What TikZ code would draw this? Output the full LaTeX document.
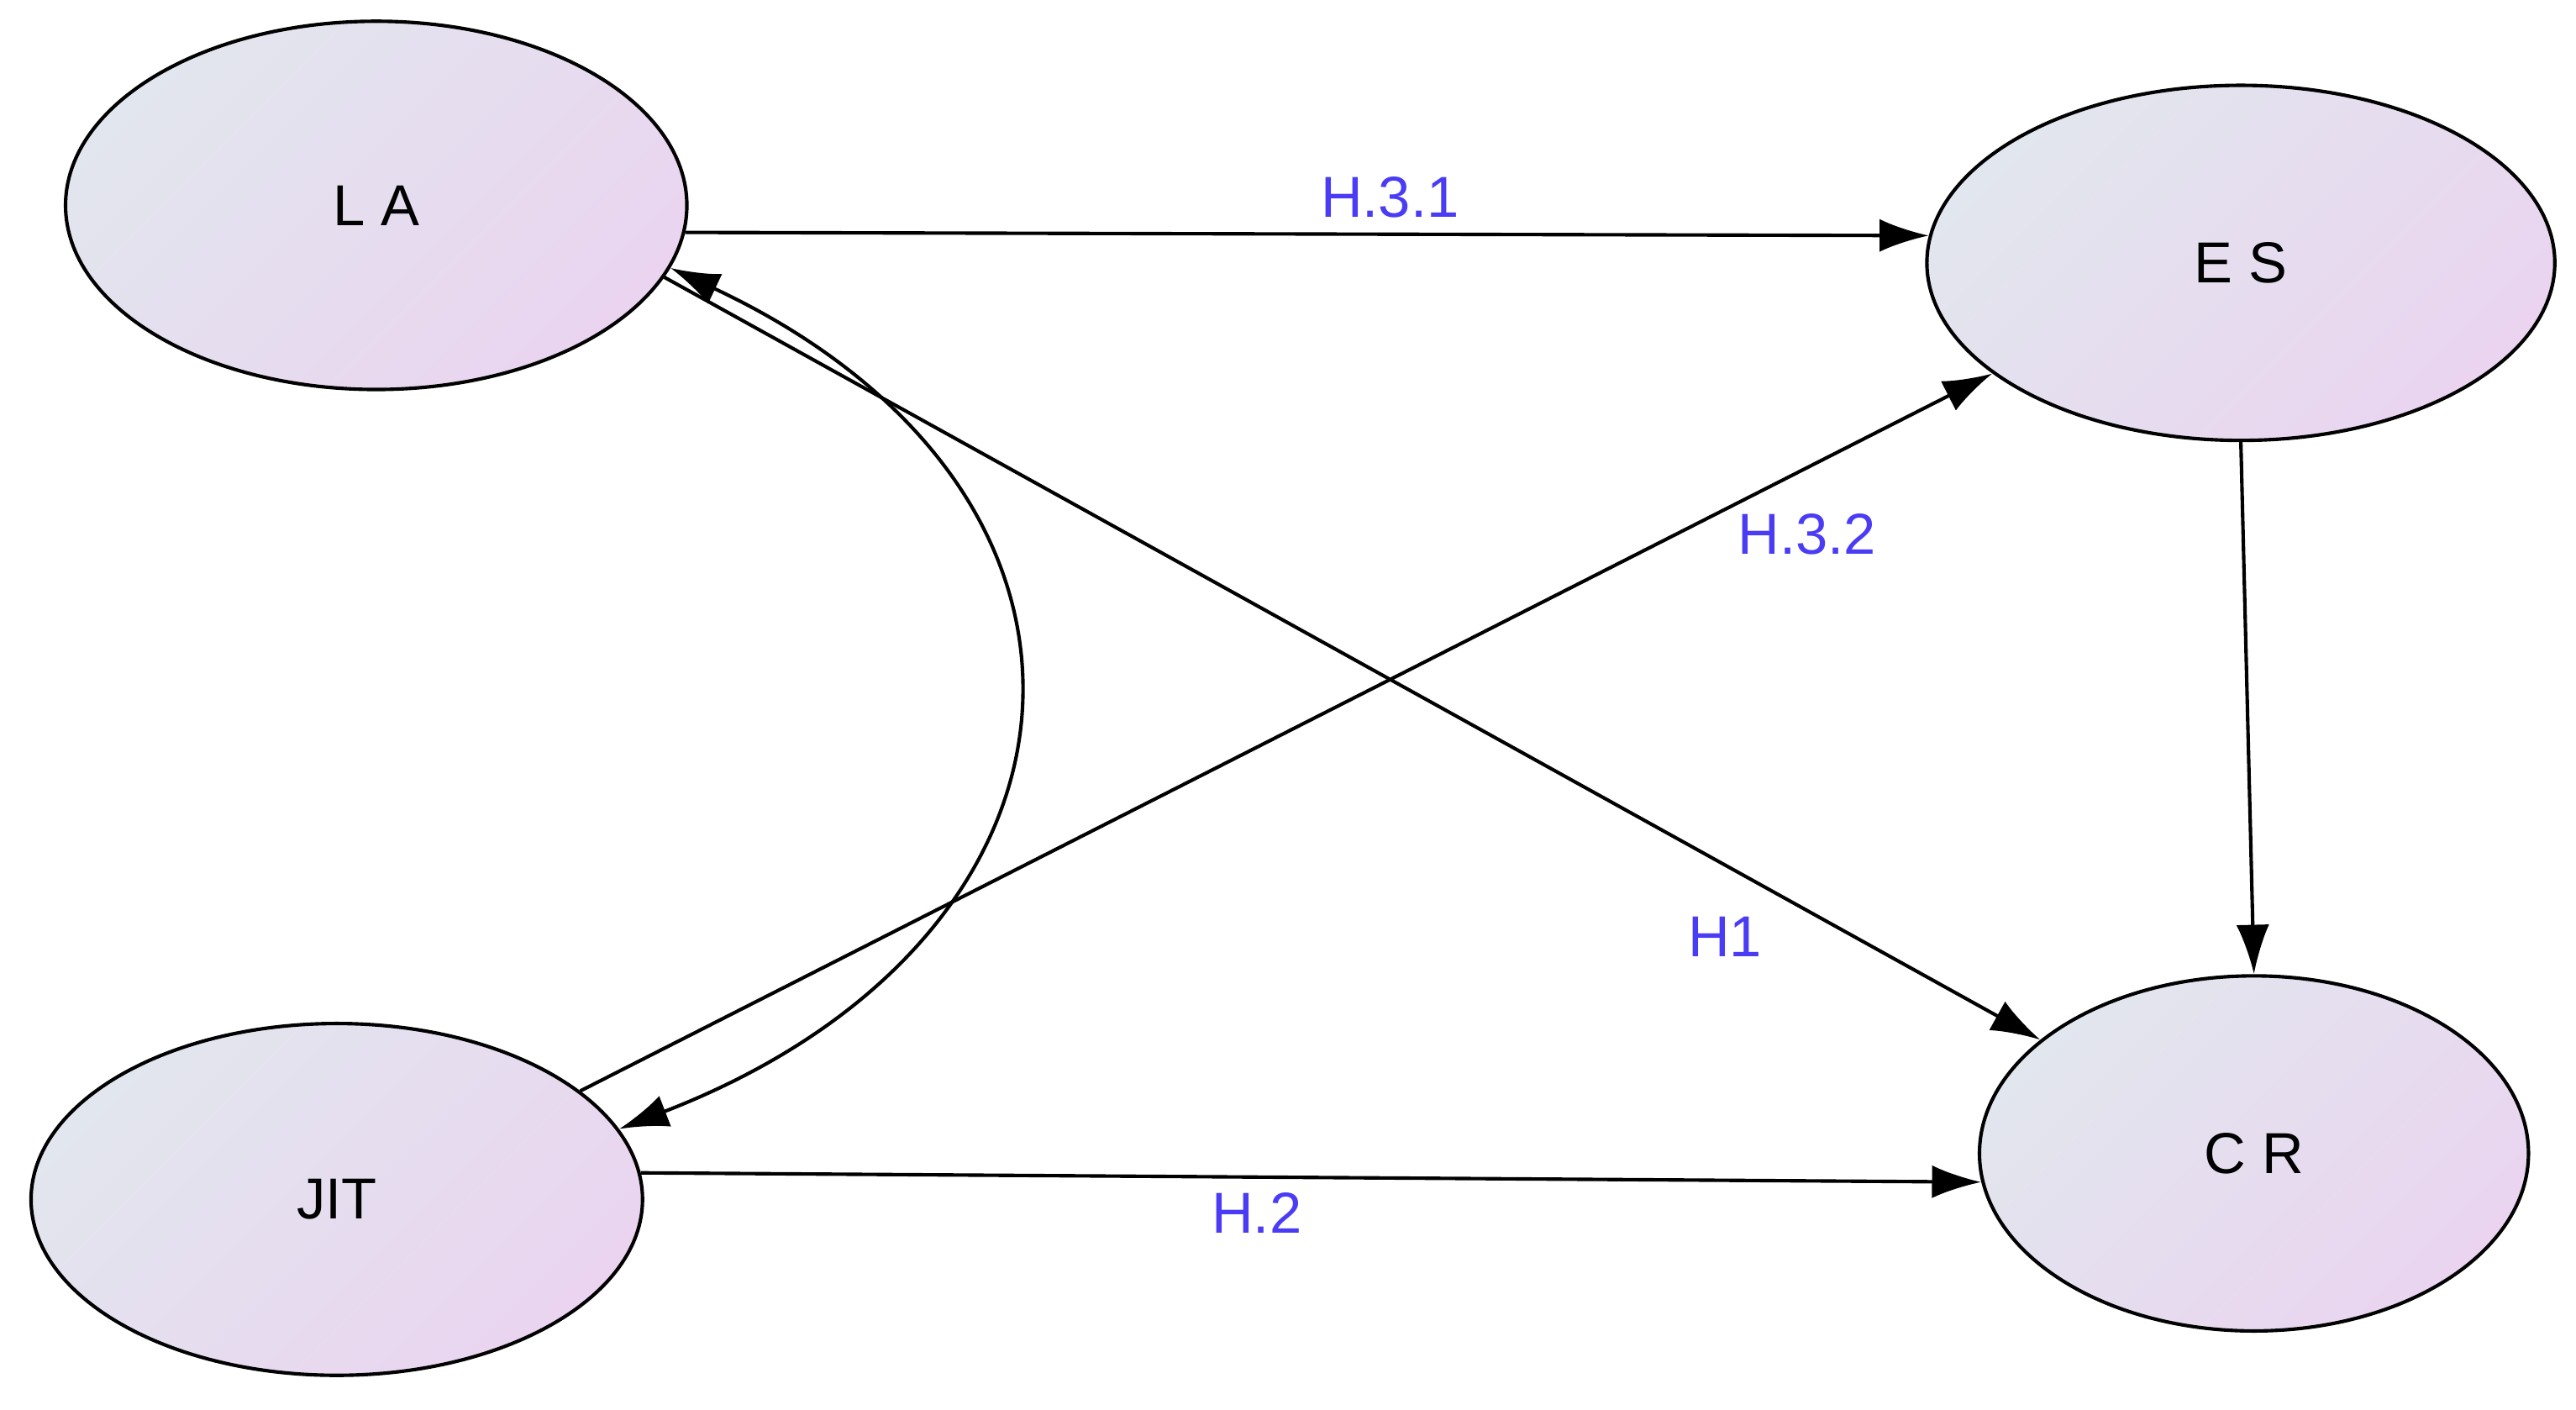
\documentclass[tikz,border=0pt]{standalone}
\usepackage{fontspec}
\setmainfont{Liberation Sans}
\usetikzlibrary{shapes.geometric,arrows.meta}
\definecolor{cA}{HTML}{E2E6EE}
\definecolor{cB}{HTML}{EAD4F0}
\definecolor{lab}{HTML}{4A3CF5}
\tikzset{
 lv/.style={ellipse,draw=black,line width=0.6pt,inner sep=0pt,left color=cA,right color=cB,shading angle=45,font=\fontsize{10}{12}\selectfont},
 arr/.style={-{Latex[length=3mm,width=2mm]},line width=0.6pt},
 hl/.style={text=lab,font=\fontsize{10}{12}\selectfont}
}
\begin{document}
\begin{tikzpicture}[x=0.01cm,y=-0.01cm]
\useasboundingbox (0,0) rectangle (1568,858);
\node[lv,minimum width=3.78cm,minimum height=2.24cm] (la) at (229,125) {L A};
\node[lv,minimum width=3.82cm,minimum height=2.16cm] (es) at (1364,160) {E S};
\node[lv,minimum width=3.34cm,minimum height=2.16cm] (cr) at (1372,702) {C R};
\node[lv,minimum width=3.72cm,minimum height=2.14cm] (jit) at (205,730) {JIT};
\draw[arr] (la.-5) -- (es.175);
\draw[arr] (la.-14) -- (cr.152);
\draw[arr] (jit.24) -- (es.204);
\draw[arr] (jit.5) -- (cr.186);
\draw[arr] (es.south) -- (cr.north);
\draw[{Latex[length=3mm,width=2mm]}-{Latex[length=3mm,width=2mm]},line width=0.6pt] (la.-12) .. controls (700,300) and (680,570) .. (jit.14);
\node[hl] (h31) at (846,120) {H.3.1};
\node[hl] (h32) at (1100,325) {H.3.2};
\node[hl] (h1) at (1050,570) {H1};
\node[hl] (h2) at (765,738) {H.2};
\end{tikzpicture}
\end{document}
